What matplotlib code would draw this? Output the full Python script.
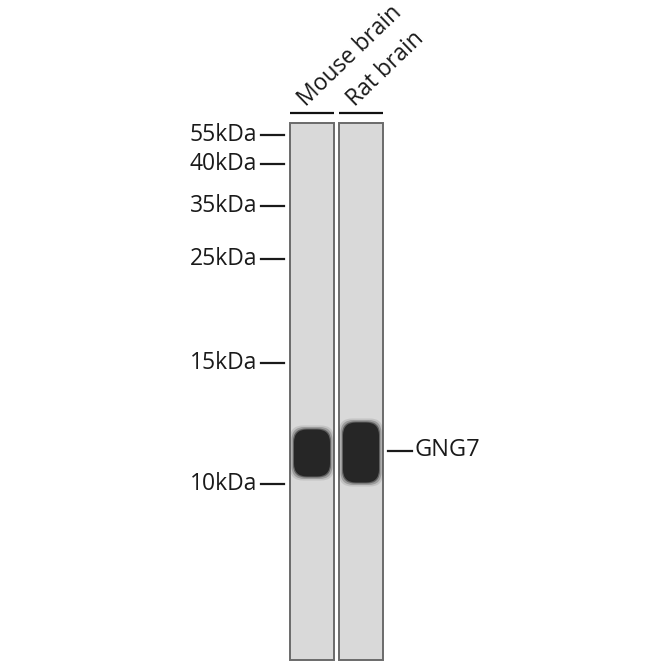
import matplotlib
matplotlib.use("Agg")
import matplotlib.pyplot as plt
from matplotlib.patches import Rectangle, FancyBboxPatch

plt.rcParams['font.family'] = ['Open Sans', 'DejaVu Sans']

# samples on the blot
lanes = ['Mouse brain', 'Rat brain']
lane_left = [290, 339]
lane_width = 44

# molecular weight ladder (label, position on the membrane)
markers = ['55kDa', '40kDa', '35kDa', '25kDa', '15kDa', '10kDa']
marker_y = [135, 164, 206, 259, 363, 484]

# detected band per lane: top, bottom
band_name = 'GNG7'
band_top = [428, 421]
band_bottom = [478, 484]

fig = plt.figure(figsize=(6.7, 6.7), dpi=100)
ax = fig.add_axes([0, 0, 1, 1])
ax.set_xlim(0, 670)
ax.set_ylim(670, 0)
ax.axis('off')

mem_top, mem_bottom = 123, 660

for i, name in enumerate(lanes):
    x0 = lane_left[i]
    # membrane strip
    ax.add_patch(Rectangle((x0, mem_top), lane_width, mem_bottom - mem_top,
                           facecolor='#d9d9d9', edgecolor='#6a6a6a', lw=1.4))
    # lane underline
    ax.plot([x0, x0 + lane_width], [113, 113], color='#111111', lw=1.6,
            solid_capstyle='butt')
    # lane label
    ax.text(x0 + 16, 107, name, rotation=44, rotation_mode='anchor',
            ha='left', va='baseline', fontsize=16.5, color='#1a1a1a')
    # band with soft edges
    t, b = band_top[i], band_bottom[i]
    for grow, a in [(4, 0.12), (2.5, 0.25), (1, 0.5), (0, 1.0)]:
        ax.add_patch(FancyBboxPatch((x0 + 4 - grow, t + 1.5 - grow),
                                    lane_width - 8 + 2 * grow, b - t - 3 + 2 * grow,
                                    boxstyle='round,pad=0,rounding_size=13',
                                    facecolor='#262626', edgecolor='none', alpha=a))

# ladder ticks and labels
for lab, y in zip(markers, marker_y):
    ax.plot([261, 284], [y, y], color='#1a1a1a', lw=1.6)
    ax.text(257, y, lab, ha='right', va='center', fontsize=16.5, color='#1a1a1a')

# target label
gy = (band_top[1] + band_bottom[1]) / 2 - 2
ax.plot([388, 412], [gy, gy], color='#1a1a1a', lw=1.6)
ax.text(415, gy, band_name, ha='left', va='center', fontsize=17, color='#1a1a1a')

fig.savefig('out.png', dpi=100, facecolor='white')
